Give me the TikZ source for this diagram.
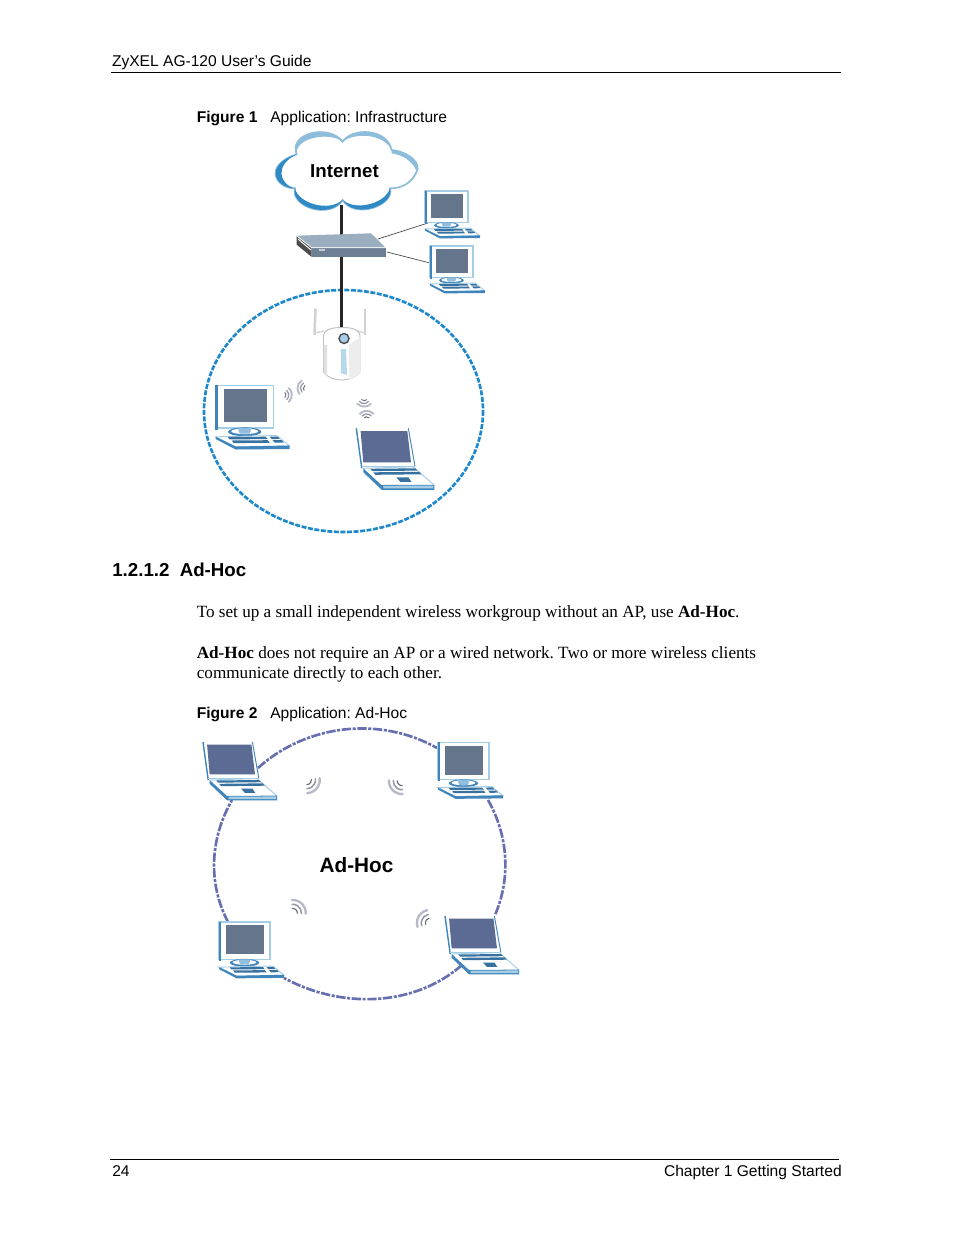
\documentclass[tikz,border=0pt]{standalone}
\usepackage{fontspec}
\setmainfont{Liberation Serif}
\newfontfamily\arialf{Liberation Sans}
\definecolor{scr}{HTML}{64758C}
\definecolor{lscr}{HTML}{5B6B93}
\definecolor{dblue}{HTML}{3F85BC}
\definecolor{lblue}{HTML}{A5CDE6}
\definecolor{cblue}{HTML}{2F8AC4}
\definecolor{cring}{HTML}{8DBDDB}
\definecolor{dash1}{HTML}{1E88CC}
\definecolor{dash2}{HTML}{676FB0}
\definecolor{hubtop}{HTML}{9AAEC0}
\definecolor{hubfront}{HTML}{6C7F95}
\tikzset{
  x=0.6415pt,y=-0.6415pt,
  sansbody/.style={anchor=base west,inner sep=0pt,font=\arialf\fontsize{10}{12}\selectfont\frenchspacing},
  sansright/.style={anchor=base east,inner sep=0pt,font=\arialf\fontsize{10}{12}\selectfont},
  capbold/.style={anchor=base west,inner sep=0pt,font=\arialf\bfseries\fontsize{10}{12}\selectfont},
  serifbody/.style={anchor=base west,inner sep=0pt,font=\fontsize{11}{13}\selectfont\frenchspacing},
  headingtext/.style={anchor=base west,inner sep=0pt,font=\arialf\bfseries\fontsize{12}{14}\selectfont},
  inettext/.style={inner sep=0pt,font=\arialf\bfseries\fontsize{12}{15}\selectfont},
  adhoctext/.style={inner sep=0pt,font=\arialf\bfseries\fontsize{13.3}{15}\selectfont},
  rule/.style={line width=0.5pt,black},
  circleone/.style={draw=dash1,line width=1.7pt,dash pattern=on 3.2pt off 1pt},
  circletwo/.style={draw=dash2,line width=1.7pt,dash pattern=on 6pt off 1pt on 2pt off 1pt},
  trunk/.style={draw=black!85,line width=1.6pt},
  thinwire/.style={draw=black!70,line width=0.45pt},
  desk/.pic={
    \fill[white] (0,0) rectangle (58,42.3);
    \draw[lblue,line width=.9pt] (0,0) rectangle (58,42.3);
    \fill[dblue] (-.5,-.5) rectangle (2.2,44);
    \fill[scr] (8,3.7) rectangle (51,36.7);
    \fill[dblue] (29,46.3) ellipse[x radius=16.7,y radius=4.4];
    \fill[white] (29,45.8) ellipse[x radius=13.5,y radius=2.8];
    \fill[lblue!80!dblue] (22,42.5) -- (36,42.5) -- (34,48) -- (24,48) -- cycle;
    \draw[fill=white,draw=lblue,line width=.6pt] (0,51.3) -- (61,50) -- (74,60.5) -- (20,61.5) -- cycle;
    \fill[dblue] (0,51.3) -- (20,61) -- (74,60) -- (74,63.5) -- (20,64) -- (0,53.5) -- cycle;
    \fill[dblue!85!black] (12,51.5) -- (50,51.2) -- (52,53.6) -- (14,53.9) -- cycle;
    \fill[dblue!85!black] (16,55) -- (52,54.7) -- (54,57.3) -- (18,57.6) -- cycle;
    \fill[dblue!85!black] (54,51.2) -- (62,51) -- (64,53.4) -- (56,53.6) -- cycle;
    \fill[dblue!85!black] (57,54.7) -- (66,54.5) -- (68,57) -- (59,57.2) -- cycle;
  },
  lap/.pic={
    \fill[white] (0,0) -- (52,0) -- (58.7,38.5) -- (6,38.5) -- cycle;
    \draw[dblue,line width=.9pt] (0,0) -- (5.5,40);
    \draw[dblue,line width=.6pt] (52,0) -- (58.7,38);
    \draw[lblue,line width=.6pt] (5.5,38.5) -- (58.7,38.5);
    \fill[lscr] (4.3,2.7) -- (51,2.7) -- (54.7,34) -- (7,34) -- cycle;
    \fill[white] (7,40) -- (57,38.5) -- (78,57) -- (25,58) -- cycle;
    \draw[lblue,line width=.6pt] (7,40) -- (57,38.5) -- (78,57);
    \fill[dblue] (7,40) -- (25,56.7) -- (78,56.5) -- (78,61.5) -- (25.5,61.5) -- (7,44) -- cycle;
    \fill[lblue] (27,57.5) -- (77,57.3) -- (77,60) -- (27,60) -- cycle;
    \fill[dblue!85!black] (14,40.5) -- (59,40) -- (61,42.3) -- (16,42.8) -- cycle;
    \fill[dblue!85!black] (17,44) -- (63,43.5) -- (65,46) -- (19,46.5) -- cycle;
    \fill[dblue!85!black] (40,49) -- (52,49) -- (55,53.5) -- (44,53.5) -- cycle;
  },
}
% #1 x, #2 y, #3 direction, #4 macro holding the list radius/width/grey
\newcommand{\wavemark}[4]{%
  \foreach \rr/\ww/\cc in #4 {%
    \draw[black!\cc!white!75!dash2,line width=\ww pt,line cap=round]
      ([shift={(#3-48:\rr pt)}]#1,#2) arc[start angle=#3-48,delta angle=96,radius=\rr pt];
  }%
}
\newcommand{\smallset}{2.1/.6/60,3.9/.8/35,5.9/1.2/18}
\newcommand{\largeset}{3/.7/60,5.6/1/35,8.4/1.5/18}
\begin{document}
\begin{tikzpicture}
\useasboundingbox[fill=white] (0,0) rectangle (954,1235);

% page furniture
\node[sansbody] (hdr) at (111.7,66) {ZyXEL AG-120 User’s Guide};
\coordinate (hl) at (111,72.5); \coordinate (hr) at (841,72.5);
\draw[rule] (hl) -- (hr);
\node[capbold] (fig1a) at (196.5,122) {Figure 1};
\node[sansbody] (fig1b) at (270,122) {Application: Infrastructure};
\node[headingtext] (sec) at (112,576) {1.2.1.2\hspace{0.55em}Ad-Hoc};
\node[serifbody] (p1) at (196.5,617) {To set up a small independent wireless workgroup without an AP, use \textbf{Ad-Hoc}.};
\node[serifbody] (p2) at (196.5,658) {\textbf{Ad-Hoc} does not require an AP or a wired network. Two or more wireless clients};
\node[serifbody] (p3) at (196.5,678) {communicate directly to each other.};
\node[capbold] (fig2a) at (196.5,718) {Figure 2};
\node[sansbody] (fig2b) at (270,718) {Application: Ad-Hoc};
\coordinate (fl) at (110,1159.5); \coordinate (fr) at (839,1159.5);
\draw[rule] (fl) -- (fr);
\node[sansbody] (pg) at (112,1176) {24};
\node[sansright] (chap) at (842,1176) {Chapter 1 Getting Started};

% ===== Figure 1 =====
\coordinate (c1) at (343.5,411);
\draw[circleone] (c1) ellipse[x radius=139.5,y radius=121];

\coordinate (cloudfoot) at (341.5,205);
\coordinate (hubtopc) at (341.5,236);
\coordinate (hubbot) at (341.5,256);
\coordinate (aptop) at (341.5,333);
\draw[trunk] (cloudfoot) -- (hubtopc);
\draw[trunk] (hubbot) -- (aptop);

% cloud
\begin{scope}[shift={(195,125)},x=0.2138pt,y=-0.2138pt]
  \path[fill=white,draw=cring,line width=1.1pt]
    (443,50) .. controls (470,8) and (575,8) .. (590,75)
    .. controls (640,80) and (680,115) .. (665,140)
    .. controls (650,175) and (620,190) .. (585,190)
    .. controls (600,240) and (480,285) .. (443,225)
    .. controls (405,285) and (285,245) .. (300,190)
    .. controls (240,190) and (205,120) .. (305,88)
    .. controls (280,25) and (400,-5) .. (443,50) -- cycle;
  \fill[cblue] (305,88) .. controls (205,120) and (240,190) .. (300,190)
     .. controls (252,178) and (238,120) .. (305,88) -- cycle;
  \fill[cblue] (300,190) .. controls (285,245) and (405,285) .. (443,225)
     .. controls (400,262) and (310,235) .. (300,190) -- cycle;
  \fill[cblue] (443,225) .. controls (480,285) and (600,240) .. (585,190)
     .. controls (570,238) and (480,258) .. (443,225) -- cycle;
  \fill[cring] (590,75) .. controls (640,80) and (680,115) .. (665,140)
     .. controls (655,110) and (625,90) .. (590,85) -- cycle;
  \fill[cring] (443,50) .. controls (470,8) and (575,8) .. (590,75)
     .. controls (565,25) and (480,22) .. (443,50) -- cycle;
  \fill[cring] (443,50) .. controls (400,-5) and (280,25) .. (305,88)
     .. controls (298,40) and (400,18) .. (443,50) -- cycle;
\end{scope}
\node[inettext] (inet) at (344.5,171) {Internet};

% hub
\coordinate (hubpa) at (378,239);
\coordinate (hubpb) at (387,252);
\coordinate (deskaport) at (428,223);
\coordinate (deskbport) at (430,263);
\draw[thinwire] (hubpa) -- (deskaport);
\draw[thinwire] (hubpb) -- (deskbport);
\fill[hubtop] (296.5,235.7) -- (371,233.3) -- (385.7,247.7) -- (311.7,247.7) -- cycle;
\fill[hubfront] (311.7,247.7) -- (385.7,247.7) -- (385.7,257) -- (311.7,257) -- cycle;
\fill[black!70] (296.5,235.7) -- (311.7,247.7) -- (311.7,257) -- (296.5,244.5) -- cycle;
\draw[white,line width=.6pt] (298,239) -- (311,250);
\draw[white,line width=.5pt] (296.5,235.7) -- (311.7,247.7) -- (385.7,247.7);
\fill[black!20] (319,248.5) rectangle (325,251);

\pic at (425,191) [scale=.74] {desk};
\pic at (430,246) [scale=.74] {desk};

% access point
\draw[black!18,line width=1.6pt] (315.5,308.5) -- (314.5,335);
\draw[black!18,line width=1.6pt] (365,308.5) -- (365,335);
\draw[black!15,line width=1pt] (315,333) -- (324,331);
\draw[black!15,line width=1pt] (365,333) -- (357,331);
\path[fill=white,draw=black!25,line width=.6pt] (323.5,337) .. controls (323.5,330) and (330,327.5) .. (342,327.5)
  .. controls (354,327.5) and (360,330) .. (360,337) -- (360,372)
  .. controls (355,378) and (348,380) .. (342,380) .. controls (335,380) and (328,378) .. (323.5,372) -- cycle;
\fill[black!7] (349,345) -- (360,337) -- (360,372) .. controls (356,377) and (353,379) .. (349,380) -- cycle;
\fill[black!12] (323.5,345) -- (327,345) -- (327,376) -- (323.5,372) -- cycle;
\draw[black!70,line width=.9pt,fill=cring!75] (344,338.5) circle[radius=5];
\fill[lblue!80] (340.7,349) -- (346,349) -- (347,375) -- (341,373) -- cycle;

\pic at (215.7,385.5) [scale=1] {desk};
\pic at (356.3,428.3) [scale=1] {lap};

\wavemark{282.7}{395}{0}{\smallset}
\wavemark{306.7}{388.3}{170}{\smallset}
\wavemark{364}{397.5}{-90}{\smallset}
\wavemark{366.7}{420}{90}{\smallset}

% ===== Figure 2 =====
\coordinate (la) at (258,768); \coordinate (db) at (437,748);
\coordinate (dc) at (488,800); \coordinate (ld) at (495,915);
\coordinate (le) at (462,965); \coordinate (df) at (284,978);
\coordinate (dg) at (228,922); \coordinate (lh) at (232,800);
\draw[circletwo] (la) .. controls (305.9,724.5) and (379.5,715.5) .. (db);
\draw[circletwo] (dc) .. controls (508.2,835.4) and (511.1,877.9) .. (ld);
\draw[circletwo] (le) .. controls (414.1,1007) and (341.5,1009) .. (df);
\draw[circletwo] (dg) .. controls (207.6,883) and (210.1,838.3) .. (lh);

\pic at (203,742) [scale=.95] {lap};
\pic at (438,742.5) [scale=.88] {desk};
\pic at (445,916) [scale=.95] {lap};
\pic at (219,922) [scale=.88] {desk};

\node[adhoctext] (adhoc) at (356.5,865) {Ad-Hoc};

\wavemark{306.7}{780}{-40}{\largeset}
\wavemark{402}{781}{-135}{\largeset}
\wavemark{292.7}{913}{45}{\largeset}
\wavemark{430}{923}{150}{\largeset}
\end{tikzpicture}
\end{document}
